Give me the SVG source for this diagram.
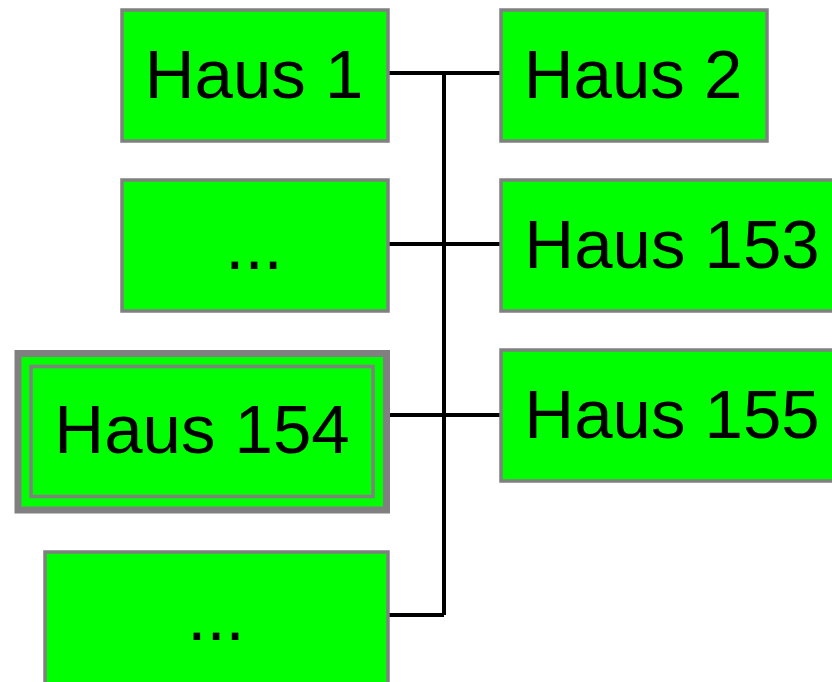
<svg xmlns="http://www.w3.org/2000/svg" width="832" height="682" viewBox="0 0 832 682">
<style>
.box{fill:#00ff00;stroke:#808080;stroke-width:3.5}
.lbl{font-family:"Liberation Sans",Arial,sans-serif;font-size:69px;fill:#000;text-anchor:middle}
.con{stroke:#000;stroke-width:4;fill:none}
</style>
<rect width="832" height="682" fill="#fff"/>
<g id="connectors">
<path class="con" d="M444 73 V615 M388 73 H501 M388 244 H501 M388 415 H501 M388 615 H444"/>
</g>
<g id="haus1"><rect class="box" x="122" y="10" width="266" height="131"/><text class="lbl" x="254" y="98">Haus 1</text></g>
<g id="haus2"><rect class="box" x="501" y="10" width="266" height="131"/><text class="lbl" x="633" y="98">Haus 2</text></g>
<g id="dots1"><rect class="box" x="122" y="180" width="266" height="131"/><text class="lbl" x="254" y="269">...</text></g>
<g id="haus153"><rect class="box" x="501" y="180" width="345" height="131"/><text class="lbl" x="672" y="268">Haus 153</text></g>
<g id="haus154"><rect x="18" y="353.5" width="368.5" height="156.5" fill="#00ff00" stroke="#808080" stroke-width="7"/><rect x="31" y="366.5" width="342" height="130" fill="#00ff00" stroke="#808080" stroke-width="3.5"/><text class="lbl" x="202" y="453">Haus 154</text></g>
<g id="haus155"><rect class="box" x="501" y="350" width="345" height="131"/><text class="lbl" x="672" y="438">Haus 155</text></g>
<g id="dots2"><rect class="box" x="45" y="552" width="343" height="140"/><text class="lbl" x="216" y="640">...</text></g>
</svg>
